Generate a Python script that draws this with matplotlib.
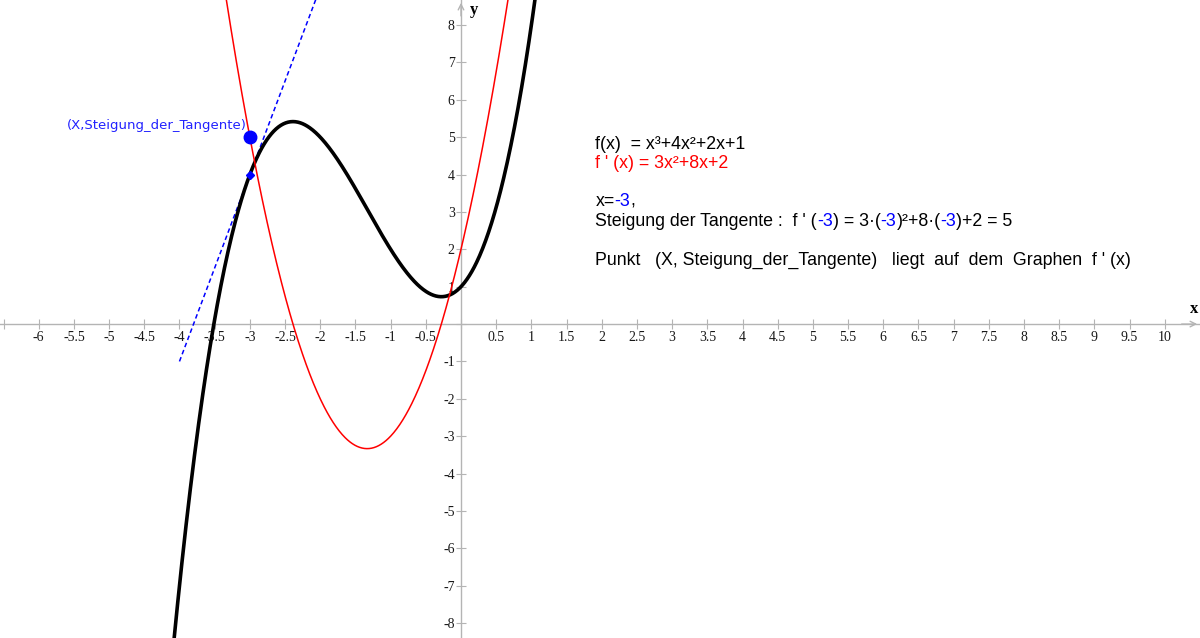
import numpy as np
import matplotlib

matplotlib.use("Agg")
import matplotlib.pyplot as plt

# polynomial coefficients (highest power first) as written on the chart
f_coeffs = [1, 4, 2, 1]        # f(x) = x^3 + 4x^2 + 2x + 1
fprime_coeffs = [3, 8, 2]      # f'(x) = 3x^2 + 8x + 2
x0 = -3                        # point where the tangent touches
tangent_x = [-4, -2]           # drawn extent of the tangent line

x_ticks = np.arange(-6.5, 10.01, 0.5)
y_ticks = np.arange(-8, 8.01, 1)

xlim = (-6.55, 10.50)
ylim = (-8.40, 8.67)

AXIS_GRAY = "#b4b4b4"
BLUE = "#0000ff"
RED = "#ff0000"


def fmt(v):
    return f"{v:g}"


fig = plt.figure(figsize=(12, 6.38), dpi=100)
ax = fig.add_axes([0, 0, 1, 1])
ax.set_xlim(*xlim)
ax.set_ylim(*ylim)

# axes through the origin
for side in ("top", "right"):
    ax.spines[side].set_visible(False)
ax.spines["left"].set_position("zero")
ax.spines["bottom"].set_position("zero")
for side in ("left", "bottom"):
    ax.spines[side].set_color(AXIS_GRAY)
    ax.spines[side].set_linewidth(1.0)
    ax.spines[side].set_zorder(0.5)

ax.set_xticks(x_ticks)
ax.set_yticks(y_ticks)
ax.set_xticklabels(["" if (v == 0 or v < -6) else fmt(v) for v in x_ticks])
ax.set_yticklabels(["" if v == 0 else fmt(v) for v in y_ticks])
ax.tick_params(axis="both", direction="inout", length=7, width=0.8,
               color=AXIS_GRAY, labelsize=10)
ax.tick_params(axis="x", pad=1.5)
ax.tick_params(axis="y", pad=1)
for lab in ax.get_xticklabels() + ax.get_yticklabels():
    lab.set_family("Liberation Serif")
    lab.set_color("#181818")

# arrow heads at the axis ends
ax.annotate("", xy=(xlim[1], 0), xytext=(xlim[1] - 0.3, 0),
            arrowprops=dict(arrowstyle="->", color=AXIS_GRAY, lw=1.0))
ax.annotate("", xy=(0, ylim[1]), xytext=(0, ylim[1] - 0.5),
            arrowprops=dict(arrowstyle="->", color=AXIS_GRAY, lw=1.0))
ax.text(10.47, 0.18, "x", family="Liberation Serif", weight="bold",
        fontsize=12, ha="right", va="bottom")
ax.text(0.12, 8.62, "y", family="Liberation Serif", weight="bold",
        fontsize=12, ha="left", va="top")

# curves
xs = np.linspace(xlim[0], xlim[1], 2000)
ax.plot(xs, np.polyval(f_coeffs, xs), color="black", lw=2.6, zorder=3)
ax.plot(xs, np.polyval(fprime_coeffs, xs), color=RED, lw=1.1, zorder=4)

# tangent at x0
y0 = np.polyval(f_coeffs, x0)
slope = np.polyval(fprime_coeffs, x0)
tx = np.array(tangent_x, dtype=float)
ax.plot(tx, y0 + slope * (tx - x0), color=BLUE, lw=1.1,
        ls=(0, (3, 2)), zorder=2)

ax.plot([x0], [y0], marker="D", ms=4.5, color=BLUE, zorder=5)
ax.plot([x0], [slope], marker="o", ms=9, color=BLUE, zorder=5)
ax.text(x0 - 0.05, slope + 0.3, "(X,Steigung_der_Tangente)", color="#2222ff",
        family="DejaVu Sans", fontsize=9.5, ha="right", va="center")

# explanatory text block, pieces chained so colours can change mid-line
TXT = dict(family="Liberation Sans", fontsize=12.8)


def colored_line(x, y, parts):
    t = ax.text(x, y, parts[0][0], color=parts[0][1], ha="left",
                va="baseline", **TXT)
    for s, c in parts[1:]:
        t = ax.annotate(s, xy=(1, 0), xycoords=t, ha="left", va="bottom",
                        color=c, **TXT)
    return t


xt = 1.91
colored_line(xt, 4.68, [("f(x)  = x³+4x²+2x+1", "black")])
colored_line(xt, 4.17, [("f ' (x) = 3x²+8x+2", RED)])
colored_line(xt, 3.16, [("x=", "black"), ("-3", BLUE), (",", "black")])
colored_line(xt, 2.62, [("Steigung der Tangente :  f ' (", "black"),
                        ("-3", BLUE), (") = 3·(", "black"), ("-3", BLUE),
                        (")²+8·(", "black"), ("-3", BLUE),
                        (")+2 = 5", "black")])
colored_line(xt, 1.58, [("Punkt   (X, Steigung_der_Tangente)   liegt  auf  dem  Graphen  f ' (x)",
                         "black")])

fig.savefig("out.png", dpi=100)
